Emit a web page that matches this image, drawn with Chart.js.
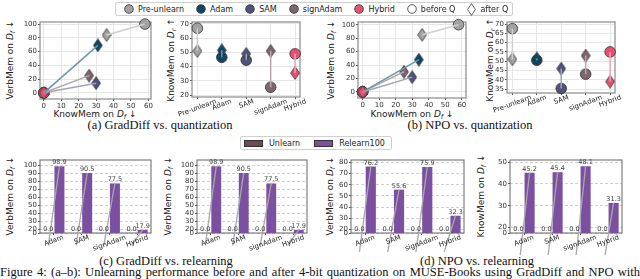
<!DOCTYPE html>
<html>
<head>
<meta charset="utf-8">
<script src="https://cdn.jsdelivr.net/npm/chart.js@4.4.1/dist/chart.umd.min.js"></script>
<style>
  body { margin: 0; width: 640px; height: 279px; overflow: hidden; background: #fff; position: relative; font-family: "DejaVu Sans", sans-serif; color: #222; }
  canvas { position: absolute; }
  .yt, .xt, .cap { position: absolute; white-space: nowrap; line-height: 1; }
  .yt { font-size: 9px; transform: translate(-50%, -50%) rotate(-90deg); }
  .xt { font-size: 9px; transform: translate(-50%, -50%); }
  .yt sub, .xt sub { font-size: 6.5px; vertical-align: -2px; line-height: 0; }
  .cap { font-family: "Liberation Serif", serif; font-size: 12.5px; transform: translate(-50%, -50%); color: #111; }
  .legend { position: absolute; display: flex; align-items: center; border: 1px solid #d0d0d0; border-radius: 2px; background: #fff; font-size: 8px; box-sizing: border-box; z-index: 2; }
  .item { display: flex; align-items: center; }
  .fig { position: absolute; left: 0; top: 265px; width: 640px; font-family: "Liberation Serif", serif; font-size: 12.5px; line-height: 15px; text-align: justify; text-align-last: justify; color: #111; }
</style>
</head>
<body>
<div id="topLegend" class="legend" style="left:115px; top:2px; height:14px; padding:0 4px 0 8px;"></div>
<div id="barLegend" class="legend" style="left:240px; top:136px; height:14px; padding:0 6px 0 3px;"></div>

<div class="yt" style="left:10px; top:60px;">VerbMem on <i>D<sub>f</sub></i> ↓</div>
<div class="xt" style="left:95px; top:114px;">KnowMem on <i>D<sub>f</sub></i> ↓</div>
<div class="yt" style="left:171px; top:60px;">KnowMem on <i>D<sub>r</sub></i> ↑</div>
<div class="yt" style="left:331px; top:60px;">VerbMem on <i>D<sub>f</sub></i> ↓</div>
<div class="xt" style="left:412px; top:114px;">KnowMem on <i>D<sub>f</sub></i> ↓</div>
<div class="yt" style="left:490px; top:60px;">KnowMem on <i>D<sub>r</sub></i> ↑</div>
<div class="yt" style="left:10px; top:196px;">VerbMem on <i>D<sub>f</sub></i> ↓</div>
<div class="yt" style="left:168px; top:196px;">VerbMem on <i>D<sub>f</sub></i> ↓</div>
<div class="yt" style="left:330px; top:196px;">VerbMem on <i>D<sub>f</sub></i> ↓</div>
<div class="yt" style="left:481px; top:196px;">KnowMem on <i>D<sub>f</sub></i> ↓</div>

<div class="cap" style="left:160px; top:125px;">(a) GradDiff vs. quantization</div>
<div class="cap" style="left:470px; top:125px;">(b) NPO vs. quantization</div>
<div class="cap" style="left:166px; top:261px;">(c) GradDiff vs. relearning</div>
<div class="cap" style="left:477px; top:261px;">(d) NPO vs. relearning</div>
<div class="fig">Figure 4: (a–b): Unlearning performance before and after 4-bit quantization on MUSE-Books using GradDiff and NPO with</div>

<script>
// methods + colours
const methods = ['Pre-unlearn', 'Adam', 'SAM', 'signAdam', 'Hybrid'];
const methodColors = ['#a2a2a2', '#0d4865', '#50527c', '#7e6670', '#e9506f'];
const linkColors = ['#cfcfcf', '#7094ab', '#a2a3b4', '#b5a9ae', '#f3a2b3'];

// (a) GradDiff vs. quantization  (before Q = circle, after Q = diamond)
const gdKnowBefore = [58, 0, 0, 0, 0];
const gdVerbBefore = [100, 0, 0, 0, 0];
const gdKnowAfter = [36, 31, 30, 26, 0];
const gdVerbAfter = [84, 69, 14, 25, 0];
const gdRetainBefore = [67, 46.5, 44.5, 25.5, 49];
const gdRetainAfter = [51, 51.5, 49, 51, 35.5];

// (b) NPO vs. quantization
const npoKnowBefore = [58, 0, 0, 0, 0];
const npoVerbBefore = [100, 0, 0, 0, 0];
const npoKnowAfter = [36, 34, 30, 25, 0];
const npoVerbAfter = [85, 48, 22, 30, 0];
const npoRetainBefore = [67.5, 50.5, 35.3, 43, 55];
const npoRetainAfter = [51, 51.5, 46, 53, 39];

// (c)/(d) relearning
const relearnCats = ['Adam', 'SAM', 'signAdam', 'Hybrid'];
const gdVerbUnlearn = [0, 0, 0, 0];
const gdVerbRelearn = [98.9, 90.5, 77.5, 17.9];
const npoVerbUnlearn = [0, 0, 0, 0];
const npoVerbRelearn = [76.2, 55.6, 75.9, 32.3];
const npoKnowUnlearn = [0, 0, 0, 0];
const npoKnowRelearn = [45.2, 45.4, 48.1, 31.3];

// tick labels
const knowTicks = [0, 10, 20, 30, 40, 50, 60];
const verbTicks = [0, 20, 40, 60, 80, 100];
const gdRetainTicks = [20, 30, 40, 50, 60, 70];
const npoRetainTicks = [35, 40, 45, 50, 55, 60, 65, 70];
const gdBarTicks = [0, 20, 30, 40, 50, 60, 70, 80, 90, 100];
const npoVerbBarTicks = [0, 20, 30, 40, 50, 60, 70, 80];
const npoKnowBarTicks = [0, 20, 30, 40, 50];

const unlearnColor = '#6d4b52';
const relearnColor = '#7c50a0';

Chart.defaults.font.family = '"DejaVu Sans", sans-serif';
Chart.defaults.font.size = 7;
Chart.defaults.color = '#333';

// thin diamond marker (matplotlib 'd')
function diamond(color) {
  const c = document.createElement('canvas');
  c.width = 10; c.height = 14;
  const g = c.getContext('2d');
  g.beginPath();
  g.moveTo(5, 0.6); g.lineTo(9.4, 7); g.lineTo(5, 13.4); g.lineTo(0.6, 7);
  g.closePath();
  g.fillStyle = color; g.fill();
  g.lineWidth = 0.8; g.strokeStyle = '#333'; g.stroke();
  return c;
}

function makeCanvas(cv) {
  const c = document.createElement('canvas');
  c.width = cv.w; c.height = cv.h;
  c.style.left = cv.x + 'px'; c.style.top = cv.y + 'px';
  document.body.appendChild(c);
  return c;
}
function noPad(s) { s.paddingLeft = 0; s.paddingRight = 0; s.paddingTop = 0; s.paddingBottom = 0; }
function fixX(h) { return s => { s.height = h; noPad(s); }; }
function fixY(w) { return s => { s.width = w; noPad(s); }; }
function setTicks(vals, map) { return s => { s.ticks = vals.map(v => ({ value: map ? map(v) : v })); }; }

// frame round the plot area (matplotlib spines)
const framePlugin = {
  id: 'frame',
  beforeDatasetsDraw(chart, args, o) {
    const a = chart.chartArea, ctx = chart.ctx;
    ctx.save();
    ctx.strokeStyle = o.color || '#777';
    ctx.lineWidth = o.width || 1;
    ctx.strokeRect(a.left, a.top, a.right - a.left, a.bottom - a.top);
    ctx.restore();
  }
};

// rotated, centred category labels
const catLabelPlugin = {
  id: 'catLabels',
  afterDraw(chart, args, o) {
    if (!o.labels) return;
    const ctx = chart.ctx, sx = chart.scales.x, a = chart.chartArea;
    const ang = (o.angle || 20) * Math.PI / 180;
    ctx.save();
    ctx.font = (o.size || 7) + 'px "DejaVu Sans"';
    ctx.fillStyle = '#222';
    ctx.textAlign = 'center';
    ctx.textBaseline = 'middle';
    o.labels.forEach((lab, i) => {
      const w = ctx.measureText(lab).width;
      const bh = w * Math.sin(ang) + (o.size || 7) * Math.cos(ang);
      ctx.save();
      ctx.translate(sx.getPixelForValue(i), a.bottom + (o.pad || 1) + bh / 2);
      ctx.rotate(-ang);
      ctx.fillText(lab, 0, 0);
      ctx.restore();
    });
    ctx.restore();
  }
};

// gray link unlearn -> relearn and value labels
const relearnPlugin = {
  id: 'relearnMarks',
  afterDatasetsDraw(chart) {
    const ctx = chart.ctx;
    const m0 = chart.getDatasetMeta(0).data, m1 = chart.getDatasetMeta(1).data;
    ctx.save();
    ctx.strokeStyle = '#a8a8a8';
    ctx.lineWidth = 1.3;
    m0.forEach((b, i) => {
      ctx.beginPath();
      ctx.moveTo(b.x, b.base);
      ctx.lineTo(m1[i].x, m1[i].y);
      ctx.stroke();
    });
    ctx.font = '6.5px "DejaVu Sans"';
    ctx.fillStyle = '#444';
    ctx.textAlign = 'center';
    ctx.textBaseline = 'bottom';
    chart.data.datasets.forEach((ds, d) => {
      chart.getDatasetMeta(d).data.forEach((b, i) => {
        ctx.fillText(ds.raw[i].toFixed(1), b.x, b.y - 0.5);
      });
    });
    ctx.restore();
  }
};

function quantChart(cv, plot, xb, yb, xa, ya, xr, yr, xTicks, yTicks, catMode) {
  const pts = (xs, ys) => xs.map((x, i) => ({ x: x, y: ys[i] }));
  const links = methods.map((m, i) => ({
    data: [{ x: xb[i], y: yb[i] }, { x: xa[i], y: ya[i] }],
    showLine: true, borderColor: linkColors[i], borderWidth: 1.5, pointRadius: 0, clip: false
  }));
  const datasets = links.concat([
    { data: pts(xa, ya), pointStyle: methodColors.map(diamond), pointRadius: 6, clip: false },
    { data: pts(xb, yb), pointStyle: 'circle', pointRadius: 5.3, backgroundColor: methodColors,
      borderColor: '#333', borderWidth: 0.8, clip: false }
  ]);
  new Chart(makeCanvas(cv), {
    type: 'scatter',
    data: { datasets: datasets },
    options: {
      responsive: false, animation: false, devicePixelRatio: 1,
      layout: { padding: { left: 0, top: plot.t - cv.y, right: cv.x + cv.w - plot.r, bottom: 0 } },
      plugins: {
        legend: { display: false }, tooltip: { enabled: false },
        frame: { color: '#8a8a8a', width: 1.2 },
        catLabels: catMode ? { labels: methods, angle: 20, pad: 1, size: 7 } : {}
      },
      scales: {
        x: {
          type: 'linear', min: xr[0], max: xr[1], bounds: 'data',
          afterBuildTicks: setTicks(xTicks), afterFit: fixX(cv.y + cv.h - plot.b),
          ticks: { padding: 1, maxRotation: 0, autoSkip: false, callback: catMode ? () => '' : v => v },
          grid: { color: '#e6e6e6', tickLength: 2, tickColor: '#555' },
          border: { display: false }
        },
        y: {
          min: yr[0], max: yr[1], bounds: 'data',
          afterBuildTicks: setTicks(yTicks), afterFit: fixY(plot.l - cv.x),
          ticks: { padding: 1, autoSkip: false, callback: v => v },
          grid: { color: '#e6e6e6', tickLength: 2, tickColor: '#555' },
          border: { display: false }
        }
      }
    },
    plugins: [framePlugin, catLabelPlugin]
  });
}

function relearnChart(cv, plot, unlearn, relearn, yMin, yMax, yTicks) {
  // compressed band below 20 (broken axis look)
  const brk = v => v >= 20 ? v : yMin + (20 - yMin) * v / 20;
  new Chart(makeCanvas(cv), {
    type: 'bar',
    data: {
      labels: relearnCats,
      datasets: [
        { label: 'Unlearn', data: unlearn.map(brk), raw: unlearn, backgroundColor: unlearnColor },
        { label: 'Relearn100', data: relearn.map(brk), raw: relearn, backgroundColor: relearnColor }
      ]
    },
    options: {
      responsive: false, animation: false, devicePixelRatio: 1,
      layout: { padding: { left: 0, top: plot.t - cv.y, right: cv.x + cv.w - plot.r, bottom: 0 } },
      datasets: { bar: { categoryPercentage: 0.8, barPercentage: 0.9 } },
      plugins: {
        legend: { display: false }, tooltip: { enabled: false },
        frame: { color: '#666', width: 1 },
        catLabels: { labels: relearnCats, angle: 20, pad: 1, size: 7 }
      },
      scales: {
        x: {
          afterFit: fixX(cv.y + cv.h - plot.b),
          ticks: { callback: () => '' },
          grid: { drawOnChartArea: false, offset: false, tickLength: 2, color: '#555' },
          border: { display: false }
        },
        y: {
          min: yMin, max: yMax, bounds: 'data',
          afterBuildTicks: setTicks(yTicks, brk), afterFit: fixY(plot.l - cv.x),
          ticks: { padding: 1, autoSkip: false, callback: (v, i) => yTicks[i] },
          grid: { color: '#d0d0d0', tickLength: 2, tickColor: '#555' },
          border: { display: false, dash: [3, 2] }
        }
      }
    },
    plugins: [framePlugin, catLabelPlugin, relearnPlugin]
  });
}

const idx = methods.map((m, i) => i);

quantChart({ x: 18, y: 12, w: 148, h: 108 }, { l: 40, t: 22, r: 151, b: 99 },
  gdKnowBefore, gdVerbBefore, gdKnowAfter, gdVerbAfter, [-2.2, 61.5], [-9, 103], knowTicks, verbTicks, false);
quantChart({ x: 170, y: 12, w: 140, h: 108 }, { l: 192, t: 22, r: 300, b: 97 },
  idx, gdRetainBefore, idx, gdRetainAfter, [-0.22, 4.2], [18.6, 71.4], idx, gdRetainTicks, true);
quantChart({ x: 336, y: 12, w: 145, h: 108 }, { l: 358, t: 22, r: 466, b: 98 },
  npoKnowBefore, npoVerbBefore, npoKnowAfter, npoVerbAfter, [-2.8, 62.5], [-9, 104], knowTicks, verbTicks, false);
quantChart({ x: 485, y: 12, w: 145, h: 108 }, { l: 507, t: 22, r: 615, b: 93 },
  idx, npoRetainBefore, idx, npoRetainAfter, [-0.22, 4.2], [32.85, 71.1], idx, npoRetainTicks, true);

relearnChart({ x: 18, y: 150, w: 145, h: 105 }, { l: 40, t: 160, r: 151, b: 233 },
  gdVerbUnlearn, gdVerbRelearn, 15.6, 106.8, gdBarTicks);
relearnChart({ x: 175, y: 150, w: 145, h: 105 }, { l: 197, t: 160, r: 307, b: 233 },
  gdVerbUnlearn, gdVerbRelearn, 15.6, 106.8, gdBarTicks);
relearnChart({ x: 329, y: 150, w: 145, h: 105 }, { l: 351, t: 160, r: 464, b: 233 },
  npoVerbUnlearn, npoVerbRelearn, 16.9, 82.1, npoVerbBarTicks);
relearnChart({ x: 488, y: 150, w: 148, h: 105 }, { l: 510, t: 160, r: 622, b: 233 },
  npoKnowUnlearn, npoKnowRelearn, 17.5, 51, npoKnowBarTicks);

// legends (figure level)
function svgMarker(kind, color) {
  if (kind === 'diamond') {
    return '<svg width="9" height="13"><polygon points="4.5,0.6 8.4,6.5 4.5,12.4 0.6,6.5" fill="' + color + '" stroke="#333" stroke-width="0.8"/></svg>';
  }
  return '<svg width="10" height="10"><circle cx="5" cy="5" r="4.3" fill="' + color + '" stroke="#333" stroke-width="0.8"/></svg>';
}
const topItems = methods.map((m, i) => ({ kind: 'circle', color: methodColors[i], text: m }))
  .concat([{ kind: 'circle', color: '#fff', text: 'before Q' }, { kind: 'diamond', color: '#fff', text: 'after Q' }]);
const topLegend = document.getElementById('topLegend');
topItems.forEach((it, i) => {
  const d = document.createElement('div');
  d.className = 'item';
  d.style.marginRight = i < topItems.length - 1 ? '12px' : '0';
  d.innerHTML = svgMarker(it.kind, it.color) + '<span style="margin-left:4px">' + it.text + '</span>';
  topLegend.appendChild(d);
});
const barLegend = document.getElementById('barLegend');
[['Unlearn', unlearnColor], ['Relearn100', relearnColor]].forEach((it, i) => {
  const d = document.createElement('div');
  d.className = 'item';
  d.style.marginRight = i === 0 ? '14px' : '0';
  d.innerHTML = '<span style="display:inline-block;width:17px;height:5px;background:' + it[1] +
    ';border:0.8px solid #333"></span><span style="margin-left:6px">' + it[0] + '</span>';
  barLegend.appendChild(d);
});
</script>
</body>
</html>
